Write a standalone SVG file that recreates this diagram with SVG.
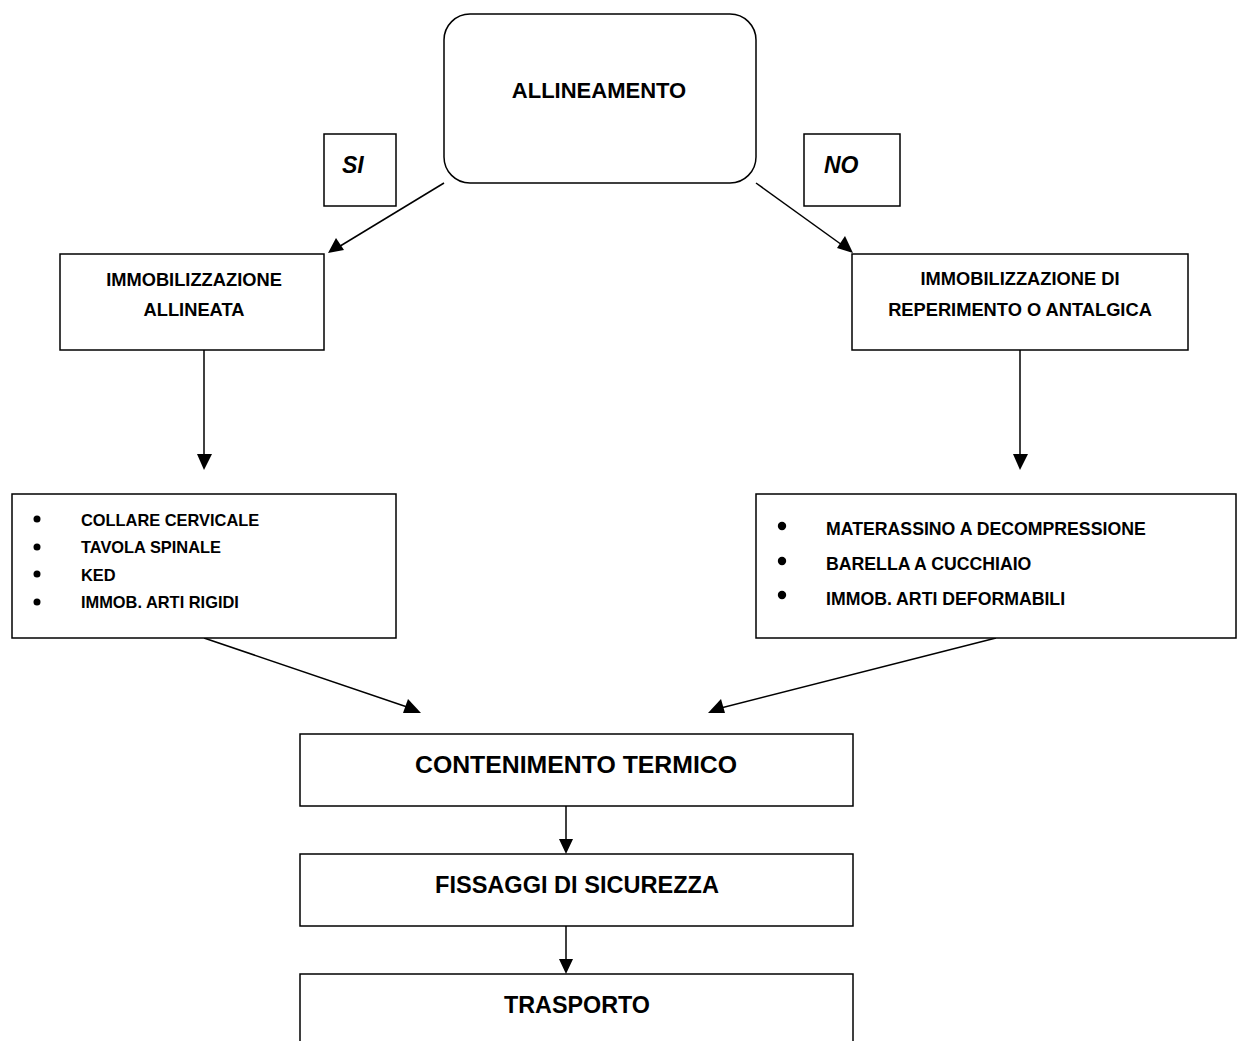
<svg xmlns="http://www.w3.org/2000/svg" width="1238" height="1041" viewBox="0 0 1238 1041">
<style>
.box{fill:#fff;stroke:#000;stroke-width:1.5}
.t{font-family:"Liberation Sans",Arial,sans-serif;font-weight:bold;fill:#000}
.c{text-anchor:middle}
.ln{stroke:#000;stroke-width:1.5;fill:none}
</style>
<rect width="1238" height="1041" fill="#fff"/>
<g id="edges">
<line class="ln" x1="444" y1="183" x2="332" y2="251"/>
<path d="M328,253 L336,238 L344,250 Z" fill="#000"/>
<line class="ln" x1="756" y1="183" x2="849" y2="250"/>
<path d="M853,253 L837,248 L845,236 Z" fill="#000"/>
<line class="ln" x1="204" y1="350" x2="204" y2="455"/>
<path d="M197,454 L212,454 L204,470 Z" fill="#000"/>
<line class="ln" x1="1020" y1="350" x2="1020" y2="455"/>
<path d="M1013,454 L1028,454 L1020,470 Z" fill="#000"/>
<line class="ln" x1="204" y1="638" x2="416" y2="710"/>
<path d="M421,713 L403,713 L408,699 Z" fill="#000"/>
<line class="ln" x1="996" y1="638" x2="713" y2="710"/>
<path d="M708,713 L721,699 L725,713 Z" fill="#000"/>
<line class="ln" x1="566" y1="806" x2="566" y2="840"/>
<path d="M559,839 L573,839 L566,854 Z" fill="#000"/>
<line class="ln" x1="566" y1="926" x2="566" y2="960"/>
<path d="M559,959 L573,959 L566,974 Z" fill="#000"/>
</g>
<g id="n-allineamento">
<rect class="box" x="444" y="14" width="312" height="169" rx="26"/>
<text class="t c" x="599" y="98" font-size="22">ALLINEAMENTO</text>
</g>
<g id="n-si">
<rect class="box" x="324" y="134" width="72" height="72"/>
<text class="t" x="342" y="173" font-size="23" font-style="italic">SI</text>
</g>
<g id="n-no">
<rect class="box" x="804" y="134" width="96" height="72"/>
<text class="t" x="824" y="173" font-size="23" font-style="italic">NO</text>
</g>
<g id="n-allineata">
<rect class="box" x="60" y="254" width="264" height="96"/>
<text class="t c" x="194" y="286" font-size="18.3">IMMOBILIZZAZIONE</text>
<text class="t c" x="194" y="316" font-size="18.3">ALLINEATA</text>
</g>
<g id="n-antalgica">
<rect class="box" x="852" y="254" width="336" height="96"/>
<text class="t c" x="1020" y="285" font-size="18.3">IMMOBILIZZAZIONE DI</text>
<text class="t c" x="1020" y="316" font-size="18.3">REPERIMENTO O ANTALGICA</text>
</g>
<g id="n-list-left">
<rect class="box" x="12" y="494" width="384" height="144"/>
<g class="t" font-size="16.4">
<circle cx="37" cy="519" r="3.5"/><text x="81" y="526">COLLARE CERVICALE</text>
<circle cx="37" cy="547" r="3.5"/><text x="81" y="553">TAVOLA SPINALE</text>
<circle cx="37" cy="574" r="3.5"/><text x="81" y="581">KED</text>
<circle cx="37" cy="602" r="3.5"/><text x="81" y="608">IMMOB. ARTI RIGIDI</text>
</g>
</g>
<g id="n-list-right">
<rect class="box" x="756" y="494" width="480" height="144"/>
<g class="t" font-size="17.7">
<circle cx="782" cy="526" r="4.2"/><text x="826" y="535">MATERASSINO A DECOMPRESSIONE</text>
<circle cx="782" cy="561" r="4.2"/><text x="826" y="570">BARELLA A CUCCHIAIO</text>
<circle cx="782" cy="595" r="4.2"/><text x="826" y="605">IMMOB. ARTI DEFORMABILI</text>
</g>
</g>
<g id="n-contenimento">
<rect class="box" x="300" y="734" width="553" height="72"/>
<text class="t c" x="576" y="773" font-size="24.5" textLength="322" lengthAdjust="spacingAndGlyphs">CONTENIMENTO TERMICO</text>
</g>
<g id="n-fissaggi">
<rect class="box" x="300" y="854" width="553" height="72"/>
<text class="t c" x="577" y="893" font-size="24.5" textLength="284" lengthAdjust="spacingAndGlyphs">FISSAGGI DI SICUREZZA</text>
</g>
<g id="n-trasporto">
<rect class="box" x="300" y="974" width="553" height="80"/>
<text class="t c" x="577" y="1013" font-size="24.5" textLength="146" lengthAdjust="spacingAndGlyphs">TRASPORTO</text>
</g>
</svg>
